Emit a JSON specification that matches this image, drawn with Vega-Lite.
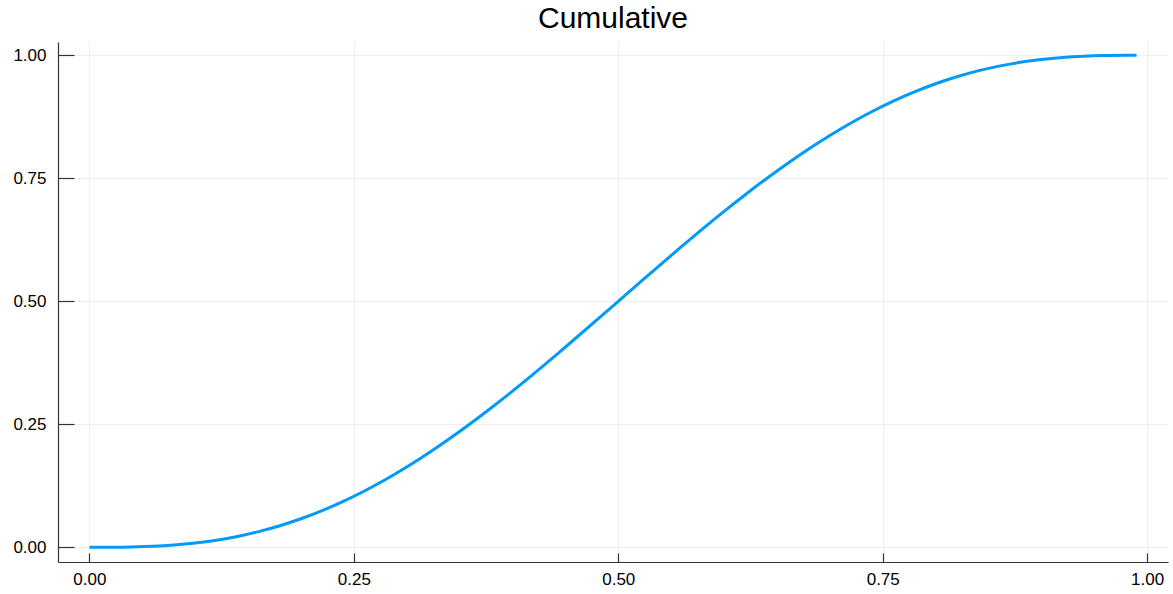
{
  "$schema": "https://vega.github.io/schema/vega-lite/v6.json",
  "width": 1110,
  "height": 520,
  "autosize": {"type": "none"},
  "padding": {"left": 58, "top": 42, "right": 5, "bottom": 32},
  "background": "white",
  "title": {"text": "Cumulative", "fontSize": 30, "font": "Liberation Sans", "fontWeight": "normal", "color": "black", "anchor": "middle", "offset": 8},
  "config": {"view": {"stroke": null}},
  "data": {"values": [
    {"x": 0.00, "y": 0.0},
    {"x": 0.02, "y": 0.0000776},
    {"x": 0.04, "y": 0.000602},
    {"x": 0.06, "y": 0.00197},
    {"x": 0.08, "y": 0.004525},
    {"x": 0.10, "y": 0.00856},
    {"x": 0.12, "y": 0.01432},
    {"x": 0.14, "y": 0.02200},
    {"x": 0.16, "y": 0.03176},
    {"x": 0.18, "y": 0.04371},
    {"x": 0.20, "y": 0.05792},
    {"x": 0.22, "y": 0.07443},
    {"x": 0.24, "y": 0.09325},
    {"x": 0.26, "y": 0.11434},
    {"x": 0.28, "y": 0.13765},
    {"x": 0.30, "y": 0.16308},
    {"x": 0.32, "y": 0.19053},
    {"x": 0.34, "y": 0.21985},
    {"x": 0.36, "y": 0.25090},
    {"x": 0.38, "y": 0.28349},
    {"x": 0.40, "y": 0.31744},
    {"x": 0.42, "y": 0.35254},
    {"x": 0.44, "y": 0.38858},
    {"x": 0.46, "y": 0.42532},
    {"x": 0.48, "y": 0.46254},
    {"x": 0.50, "y": 0.5},
    {"x": 0.52, "y": 0.53746},
    {"x": 0.54, "y": 0.57468},
    {"x": 0.56, "y": 0.61142},
    {"x": 0.58, "y": 0.64746},
    {"x": 0.60, "y": 0.68256},
    {"x": 0.62, "y": 0.71651},
    {"x": 0.64, "y": 0.74910},
    {"x": 0.66, "y": 0.78015},
    {"x": 0.68, "y": 0.80947},
    {"x": 0.70, "y": 0.83692},
    {"x": 0.72, "y": 0.86235},
    {"x": 0.74, "y": 0.88566},
    {"x": 0.76, "y": 0.90675},
    {"x": 0.78, "y": 0.92557},
    {"x": 0.80, "y": 0.94208},
    {"x": 0.82, "y": 0.95629},
    {"x": 0.84, "y": 0.96824},
    {"x": 0.86, "y": 0.97800},
    {"x": 0.88, "y": 0.98568},
    {"x": 0.90, "y": 0.99144},
    {"x": 0.92, "y": 0.995475},
    {"x": 0.94, "y": 0.99803},
    {"x": 0.96, "y": 0.999398},
    {"x": 0.98, "y": 0.999922},
    {"x": 0.99, "y": 0.99999}
  ]},
  "mark": {"type": "line", "color": "#009AFA", "strokeWidth": 3, "interpolate": "monotone"},
  "encoding": {
    "x": {"field": "x", "type": "quantitative",
      "scale": {"domain": [-0.0297, 1.0197], "nice": false, "zero": false},
      "axis": {"title": null, "values": [0, 0.25, 0.5, 0.75, 1.0], "format": ".2f",
        "domainColor": "#333", "domainWidth": 1.2, "tickColor": "#333", "tickSize": -9, "tickWidth": 1.2,
        "gridColor": "#eeeeee", "gridWidth": 1,
        "labelFont": "Liberation Sans", "labelFontSize": 17, "labelColor": "black", "labelPadding": 18}},
    "y": {"field": "y", "type": "quantitative",
      "scale": {"domain": [-0.03, 1.027], "nice": false, "zero": false},
      "axis": {"title": null, "values": [0, 0.25, 0.5, 0.75, 1.0], "format": ".2f",
        "domainColor": "#333", "domainWidth": 1.2, "tickColor": "#333", "tickSize": -16, "tickWidth": 1.2,
        "gridColor": "#eeeeee", "gridWidth": 1,
        "labelFont": "Liberation Sans", "labelFontSize": 17, "labelColor": "black", "labelPadding": 28}}
  }
}
